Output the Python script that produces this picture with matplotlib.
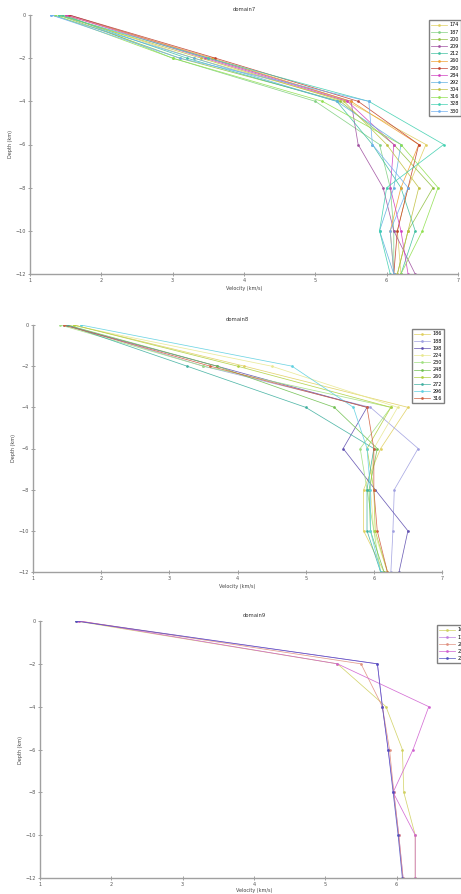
import matplotlib
matplotlib.use("Agg")
import matplotlib.pyplot as plt

W, H = 461, 894

depth = [0, -2, -4, -6, -8, -10, -12]

# domain7
d7_labels = ["174", "187", "200", "209", "212", "260", "280", "284", "292", "304", "316", "328", "330"]
d7_colors = ["#e0d060", "#80d080", "#90c040", "#a050a0", "#40c0a0", "#f0a030", "#c04030",
             "#d040c0", "#60b0e0", "#c0c040", "#90e050", "#40d0b0", "#70b0f0"]
d7_vel = [
    [1.45, 3.3, 5.45, 6.55, 6.3, 6.15, 6.2],
    [1.5, 3.0, 5.0, 5.9, 6.05, 6.1, 6.1],
    [1.4, 3.1, 5.35, 6.1, 6.65, 6.3, 6.15],
    [1.55, 3.5, 5.5, 5.6, 5.95, 6.1, 6.4],
    [1.45, 3.2, 5.3, 5.8, 6.2, 6.4, 6.2],
    [1.5, 3.55, 5.5, 6.45, 6.2, 6.05, 6.1],
    [1.55, 3.6, 5.6, 6.45, 6.3, 6.15, 6.1],
    [1.5, 3.45, 5.45, 6.1, 6.05, 6.2, 6.3],
    [1.3, 3.3, 5.3, 6.2, 6.1, 5.9, 6.1],
    [1.4, 3.4, 5.4, 6.0, 6.45, 6.3, 6.15],
    [1.35, 3.0, 5.1, 6.2, 6.72, 6.5, 6.2],
    [1.4, 3.5, 5.75, 6.8, 6.0, 5.9, 6.05],
    [1.3, 3.1, 5.75, 5.8, 6.3, 6.05, 6.1],
]

# domain8
d8_labels = ["186", "188", "198", "224", "230", "248", "260", "272", "296", "316"]
d8_colors = ["#e0d060", "#a0a0e0", "#6050b0", "#e8e890", "#a0e080", "#70c050",
             "#b0d040", "#40b0a0", "#60d0e0", "#d06040"]
d8_vel = [
    [1.6, 4.1, 6.5, 6.1, 5.85, 5.85, 6.15],
    [1.5, 3.5, 5.95, 6.65, 6.3, 6.28, 6.25],
    [1.45, 3.7, 5.9, 5.55, 6.02, 6.5, 6.37],
    [1.55, 4.5, 6.35, 6.0, 5.95, 6.0, 6.2],
    [1.4, 3.5, 6.25, 5.8, 5.9, 6.0, 6.1],
    [1.5, 3.7, 5.42, 6.05, 5.93, 5.95, 6.15],
    [1.6, 4.0, 6.25, 5.9, 6.0, 6.02, 6.2],
    [1.5, 3.26, 5.0, 6.0, 5.9, 5.9, 6.1],
    [1.7, 4.8, 5.7, 5.9, 5.95, 5.95, 6.1],
    [1.45, 3.6, 5.9, 6.0, 6.0, 6.05, 6.2],
]

# domain9
d9_labels = ["160", "172", "204", "232", "236"]
d9_colors = ["#d0d060", "#c080e0", "#e09080", "#d060d0", "#5050c0"]
d9_vel = [
    [1.5, 5.17, 5.85, 6.08, 6.1, 6.26, 6.26],
    [1.52, 5.73, 5.8, 5.88, 5.96, 6.03, 6.09],
    [1.55, 5.5, 5.8, 5.9, 5.96, 6.03, 6.09],
    [1.55, 5.17, 6.45, 6.23, 5.95, 6.26, 6.26],
    [1.5, 5.73, 5.8, 5.88, 5.95, 6.02, 6.08],
]


def px_rect(l, r, t, b):
    return [l / W, 1 - b / H, (r - l) / W, (b - t) / H]


def draw_panel(fig, rect, title, labels, colors, vels, leg_xy, xpad=2):
    ax = fig.add_axes(px_rect(*rect))
    for lab, col, v in zip(labels, colors, vels):
        ax.plot(v, depth, color=col, lw=0.55, alpha=0.9, marker=".", ms=2.0, label=lab)
    ax.set_xlim(1, 7)
    ax.set_ylim(-12, 0)
    ax.set_xticks(range(1, 8))
    ax.set_yticks(range(0, -13, -2))
    for s in ["top", "right"]:
        ax.spines[s].set_visible(False)
    for s in ["left", "bottom"]:
        ax.spines[s].set_color("#a0a0a0")
        ax.spines[s].set_linewidth(1.0)
    ax.tick_params(direction="inout", length=3, width=0.6, color="#909090",
                   labelsize=3.5, labelcolor="#555555", pad=1.5)
    ax.set_xlabel("Velocity (km/s)", fontsize=3.5, color="#444444", labelpad=xpad)
    ax.set_ylabel("Depth (km)", fontsize=3.5, color="#444444", labelpad=2)
    ax.set_title(title, fontsize=3.8, color="#333333", pad=3)
    fig.legend(*ax.get_legend_handles_labels(), loc="upper left",
               bbox_to_anchor=(leg_xy[0] / W, 1 - leg_xy[1] / H),
               fontsize=3.5, handlelength=3.2, handletextpad=0.6, labelspacing=0.45,
               borderpad=0.4, frameon=True, fancybox=False, edgecolor="#808080",
               framealpha=1)
    return ax


fig = plt.figure(figsize=(W / 100, H / 100), dpi=100)
draw_panel(fig, (30, 458, 15, 274), "domain7", d7_labels, d7_colors, d7_vel, (427, 18))
draw_panel(fig, (33, 442, 325, 572), "domain8", d8_labels, d8_colors, d8_vel, (410, 327))
draw_panel(fig, (40, 468, 621, 878), "domain9", d9_labels, d9_colors, d9_vel, (435, 623), xpad=0.5)

fig.savefig("out.png", dpi=100)
